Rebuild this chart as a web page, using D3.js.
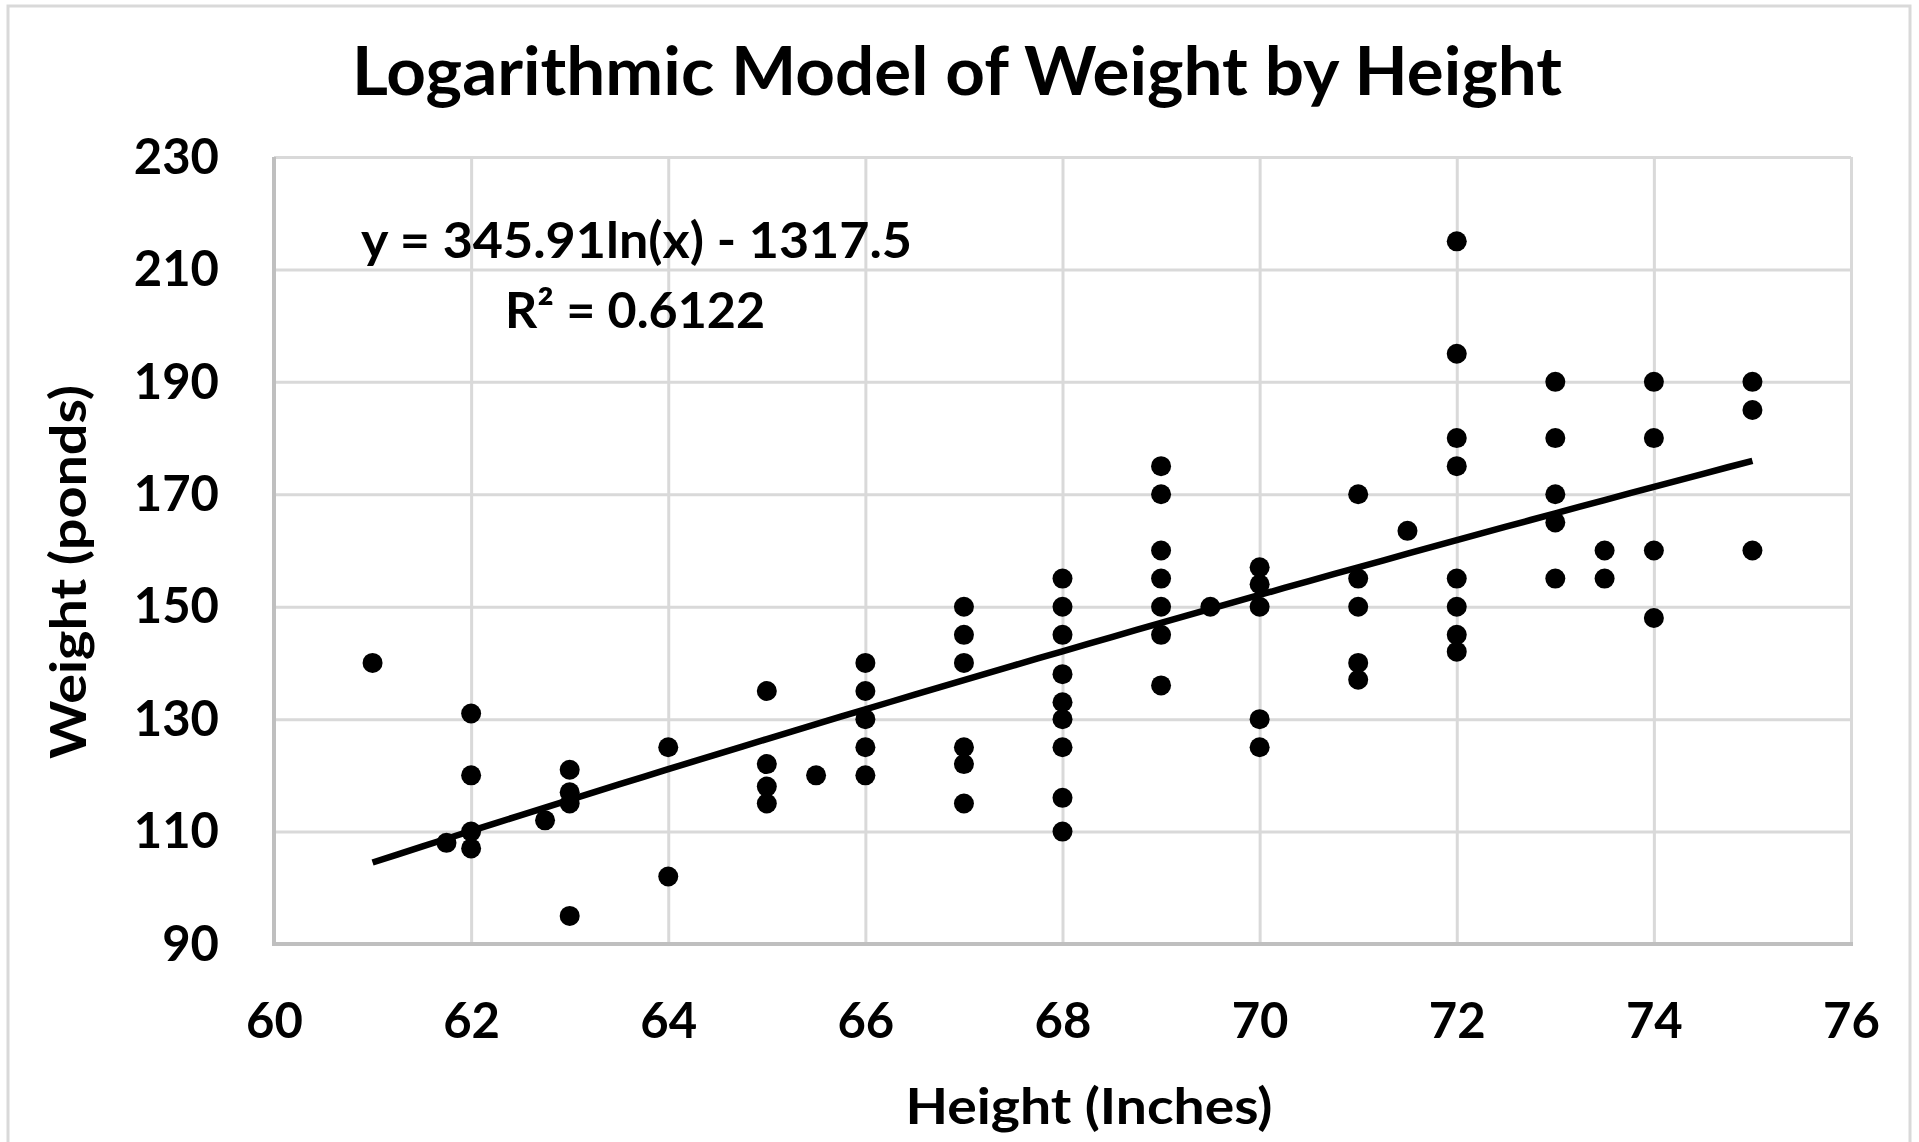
<!DOCTYPE html>
<html>
<head>
<meta charset="utf-8">
<script src="https://d3js.org/d3.v7.min.js"></script>
<style>
  body { margin:0; background:#fff; }
  svg text { font-family: Lato, "Open Sans", sans-serif; font-weight:bold; fill:#000; }
  .grid line { stroke:#d9d9d9; stroke-width:3; }
  .grid path { display:none; }
  .axis path, .axis line { display:none; }
  .axis text { font-size:49px; }
  .frame { stroke:#bfbfbf; stroke-width:4; }
</style>
</head>
<body>
<svg id="chart" width="1919" height="1142"></svg>
<script>
  // data
  var heights = [61, 61.75,
    62, 62, 62, 62, 62.75,
    63, 63, 63, 63, 64, 64,
    65, 65, 65, 65, 65.5,
    66, 66, 66, 66, 66,
    67, 67, 67, 67, 67, 67,
    68, 68, 68, 68, 68, 68, 68, 68, 68,
    69, 69, 69, 69, 69, 69, 69, 69.5,
    70, 70, 70, 70, 70,
    71, 71, 71, 71, 71, 71.5,
    72, 72, 72, 72, 72, 72, 72, 72,
    73, 73, 73, 73, 73, 73.5, 73.5,
    74, 74, 74, 74,
    75, 75, 75];
  var weights = [140, 108,
    131, 120, 110, 107, 112,
    121, 117, 115, 95, 125, 102,
    135, 122, 118, 115, 120,
    140, 135, 130, 125, 120,
    150, 145, 140, 125, 122, 115,
    155, 150, 145, 138, 133, 130, 125, 116, 110,
    175, 170, 160, 155, 150, 145, 136, 150,
    157, 154, 150, 130, 125,
    170, 155, 150, 140, 137, 163.5,
    215, 195, 180, 175, 155, 150, 145, 142,
    190, 180, 170, 165, 155, 160, 155,
    190, 180, 160, 148,
    190, 185, 160];

  var xTicks = [60, 62, 64, 66, 68, 70, 72, 74, 76];
  var yTicks = [90, 110, 130, 150, 170, 190, 210, 230];

  // trendline y = a*ln(x) + b
  var trendA = 345.91, trendB = -1317.5, trendFrom = 61, trendTo = 75;
  var eqText = "y = 345.91ln(x) - 1317.5";
  var r2Text = "R\u00B2 = 0.6122";

  var titleText = "Logarithmic Model of Weight by Height";
  var xTitle = "Height (Inches)";
  var yTitle = "Weight (ponds)";

  //layout
  var margin = {top:157, left:274},
      width = 1851 - 274,
      height = 944 - 157;

  var svg = d3.select('#chart');

  svg.append('rect')
     .attr('x', 8).attr('y', 6)
     .attr('width', 1902).attr('height', 1160)
     .attr('fill', '#fff')
     .attr('stroke', '#d9d9d9')
     .attr('stroke-width', 3);

  var canvas = svg.append('g')
                  .attr('transform', 'translate(' + margin.left + ',' + margin.top + ')');

  var x = d3.scaleLinear().domain([60, 76]).range([0, width]);
  var y = d3.scaleLinear().domain([90, 230]).range([height, 0]);

  //gridlines
  canvas.append('g').attr('class', 'grid')
        .call(d3.axisLeft(y).tickValues(yTicks).tickSize(-width).tickFormat(''));
  canvas.append('g').attr('class', 'grid')
        .attr('transform', 'translate(0,' + height + ')')
        .call(d3.axisBottom(x).tickValues(xTicks).tickSize(-height).tickFormat(''));

  // axis lines (left + bottom are darker)
  canvas.append('line').attr('class', 'frame')
        .attr('x1', 0).attr('x2', 0).attr('y1', 0).attr('y2', height + 2);
  canvas.append('line').attr('class', 'frame')
        .attr('x1', -2).attr('x2', width + 2).attr('y1', height).attr('y2', height);

  //tick labels
  var xAxis = canvas.append('g').attr('class', 'axis')
        .attr('transform', 'translate(0,' + height + ')')
        .call(d3.axisBottom(x).tickValues(xTicks).tickSize(0).tickPadding(59));
  var yAxis = canvas.append('g').attr('class', 'axis')
        .call(d3.axisLeft(y).tickValues(yTicks).tickSize(0).tickPadding(55));
  yAxis.selectAll('text').attr('dy', '0.33em');
  svg.selectAll('.axis text').attr('font-family', null);

  //points
  canvas.selectAll('circle')
        .data(heights)
        .enter().append('circle')
        .attr('cx', function(d){ return x(d); })
        .attr('cy', function(d, i){ return y(weights[i]); })
        .attr('r', 10)
        .attr('fill', '#000');

  //trendline
  var trendX = d3.range(trendFrom, trendTo + 0.001, 0.25);
  var line = d3.line()
        .x(function(d){ return x(d); })
        .y(function(d){ return y(trendA * Math.log(d) + trendB); });
  canvas.append('path')
        .datum(trendX)
        .attr('d', line)
        .attr('fill', 'none')
        .attr('stroke', '#000')
        .attr('stroke-width', 6.5);

  //texts
  svg.append('text')
     .attr('x', 957).attr('y', 95)
     .attr('text-anchor', 'middle')
     .attr('font-size', 66)
     .attr('textLength', 1210).attr('lengthAdjust', 'spacingAndGlyphs')
     .text(titleText);

  svg.append('text')
     .attr('x', 361).attr('y', 258)
     .attr('font-size', 49)
     .attr('textLength', 551).attr('lengthAdjust', 'spacingAndGlyphs')
     .text(eqText);
  svg.append('text')
     .attr('x', 505).attr('y', 328)
     .attr('font-size', 49)
     .attr('textLength', 260).attr('lengthAdjust', 'spacingAndGlyphs')
     .text(r2Text);

  svg.append('text')
     .attr('x', 1089).attr('y', 1124)
     .attr('text-anchor', 'middle')
     .attr('font-size', 49)
     .attr('textLength', 367).attr('lengthAdjust', 'spacingAndGlyphs')
     .text(xTitle);

  svg.append('text')
     .attr('transform', 'translate(86,572) rotate(-90)')
     .attr('text-anchor', 'middle')
     .attr('font-size', 49)
     .attr('textLength', 374).attr('lengthAdjust', 'spacingAndGlyphs')
     .text(yTitle);
</script>
</body>
</html>
